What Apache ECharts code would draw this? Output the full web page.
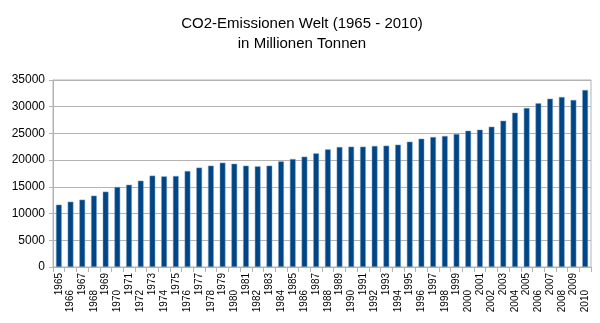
<!DOCTYPE html>
<html>
<head>
<meta charset="utf-8">
<script src="https://cdn.jsdelivr.net/npm/echarts@6/dist/echarts.min.js"></script>
<style>html,body{margin:0;padding:0;background:#fff;}#c{width:600px;height:323px;}</style>
</head>
<body>
<div id="c"></div>
<script>
var years = ['1965','1966','1967','1968','1969','1970','1971','1972','1973','1974','1975','1976','1977','1978','1979','1980','1981','1982','1983','1984','1985','1986','1987','1988','1989','1990','1991','1992','1993','1994','1995','1996','1997','1998','1999','2000','2001','2002','2003','2004','2005','2006','2007','2008','2009','2010'];
var emissions = [11660,12220,12600,13350,14100,14970,15400,16150,17100,16960,17030,17960,18600,18960,19520,19330,18960,18840,18960,19770,20210,20650,21270,22020,22460,22520,22520,22650,22710,22890,23450,24010,24330,24520,24890,25510,25700,26260,27380,28880,29760,30630,31500,31820,31260,33130];
var titleLines = ['CO2-Emissionen Welt (1965 - 2010)', 'in Millionen Tonnen'];
var yMax = 35000, yStep = 5000;

var chart = echarts.init(document.getElementById('c'), null, {renderer: 'canvas'});
var font = 'Liberation Sans, Arial, sans-serif';
chart.setOption({
  animation: false,
  title: {
    text: titleLines.join('\n'),
    left: 297, top: 9, textAlign: 'center',
    textStyle: {fontFamily: font, fontSize: 15, fontWeight: 'normal', color: '#000', lineHeight: 20}
  },
  grid: {left: 53, right: 9, top: 80, bottom: 56, show: true, borderColor: '#b3b3b3', borderWidth: 1},
  xAxis: [{
    type: 'category', data: years, position: 'bottom',
    axisLine: {lineStyle: {color: '#b3b3b3'}},
    axisTick: {show: true, length: 5, interval: 0, lineStyle: {color: '#b3b3b3'}},
    axisLabel: {rotate: 90, fontFamily: font, fontSize: 10, color: '#000', margin: 6,
      interval: function (i) { return i % 2 === 0; }}
  }, {
    type: 'category', data: years, position: 'bottom',
    axisLine: {show: false}, axisTick: {show: false},
    axisLabel: {rotate: 90, fontFamily: font, fontSize: 10, color: '#000', margin: 23,
      interval: function (i) { return i % 2 === 1; }}
  }],
  yAxis: {
    type: 'value', min: 0, max: yMax, interval: yStep,
    axisLine: {show: true, lineStyle: {color: '#b3b3b3'}},
    axisTick: {show: true, length: 4, lineStyle: {color: '#b3b3b3'}},
    splitLine: {lineStyle: {color: '#b3b3b3'}},
    axisLabel: {fontFamily: font, fontSize: 12, color: '#000', margin: 8,
      formatter: function (v) { return String(v); }}
  },
  series: [{
    type: 'bar', data: emissions, xAxisIndex: 0, barWidth: '49%',
    itemStyle: {color: '#004586', borderColor: '#7fa2c3', borderWidth: 0.5}
  }]
});
</script>
</body>
</html>
